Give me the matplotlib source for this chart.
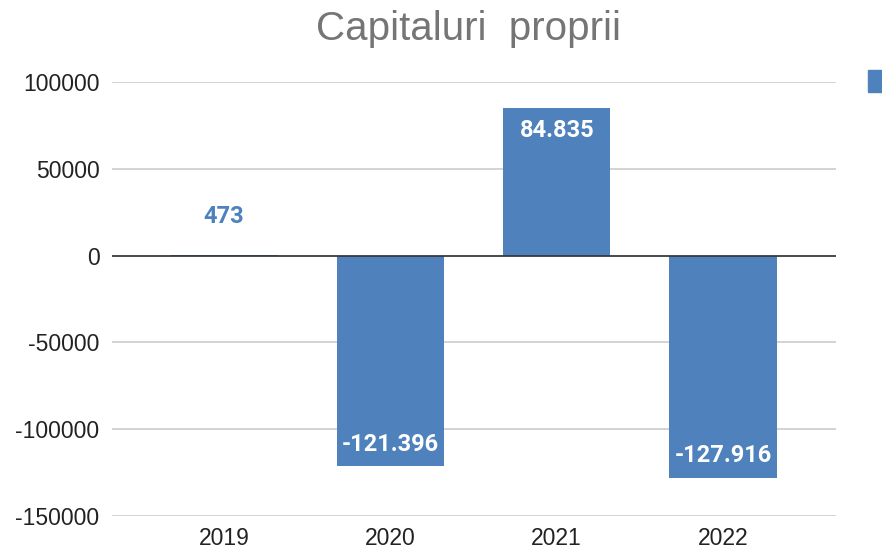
import matplotlib
matplotlib.use("Agg")
import matplotlib.pyplot as plt
from matplotlib.patches import Rectangle
from matplotlib.ticker import FuncFormatter

years = ["2019", "2020", "2021", "2022"]
values = [473, -121396, 84835, -127916]
labels = ["473", "-121.396", "84.835", "-127.916"]
yticks = [-150000, -100000, -50000, 0, 50000, 100000]

bar_color = "#4F81BD"

fig = plt.figure(figsize=(8.82, 5.5), dpi=100)
ax = fig.add_axes([112/882, 1-516/550, (836-112)/882, (516-82)/550])

x = list(range(len(years)))
bars = ax.bar(x, values, width=0.645, color=bar_color, zorder=2)

ax.set_xlim(-0.675, 3.68)
ax.set_ylim(-150000, 100000)
ax.set_yticks(yticks)
ax.yaxis.set_major_formatter(FuncFormatter(lambda v, p: f"{int(v)}"))
ax.set_xticks(x)
ax.set_xticklabels(years)

for s in ax.spines.values():
    s.set_visible(False)
ax.grid(axis="y", color="#cccccc", linewidth=1.2, zorder=0)
ax.axhline(0, color="#333333", linewidth=1.2, zorder=3)
ax.tick_params(axis="both", length=0, labelsize=16.5, labelcolor="#222222",
               labelfontfamily="Liberation Sans")
ax.tick_params(axis="y", pad=9)
ax.tick_params(axis="x", pad=8)

for xi, v, lab in zip(x, values, labels):
    if abs(v) < 20000:
        ax.annotate(lab, (xi, v), xytext=(0, 38), textcoords="offset pixels",
                    ha="center", va="center", color=bar_color, fontsize=17,
                    fontweight="bold", family="Roboto")
    elif v > 0:
        ax.annotate(lab, (xi, v), xytext=(0, -22), textcoords="offset pixels",
                    ha="center", va="center", color="white", fontsize=17,
                    fontweight="bold", family="Roboto")
    else:
        ax.annotate(lab, (xi, v), xytext=(0, 22), textcoords="offset pixels",
                    ha="center", va="center", color="white", fontsize=17,
                    fontweight="bold", family="Roboto")

fig.text(469/882, 1-29/550, "Capitaluri  proprii", ha="center", va="center",
         fontsize=29, color="#757575", family="Liberation Sans")

fig.patches.append(Rectangle((868/882, 1-92/550), 20/882, 22/550,
                             transform=fig.transFigure, color=bar_color))

fig.savefig("out.png", dpi=100)
